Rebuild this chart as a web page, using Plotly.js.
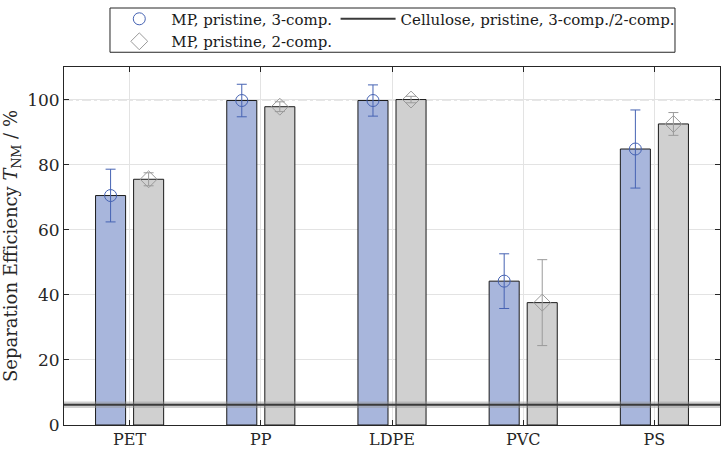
<!DOCTYPE html>
<html>
<head>
<meta charset="utf-8">
<script src="https://cdn.plot.ly/plotly-3.0.1.min.js"></script>
<style>html,body{margin:0;padding:0;background:#fff;}#chart{width:722px;height:451px;}</style>
</head>
<body>
<div id="chart"></div>
<script>
// ---- data ----
const categories = ['PET', 'PP', 'LDPE', 'PVC', 'PS'];
const mp3Values = [70.5, 99.7, 99.7, 44.2, 84.8];
const mp3Errors = [8.1, 5.0, 4.8, 8.4, 12.0];
const mp2Values = [75.5, 97.8, 100.0, 37.6, 92.5];
const mp2Errors = [2.0, 1.5, 1.0, 13.2, 3.5];
const celluloseValue = 6.2;
const celluloseError = 1.0;
const referenceLine = 100;
const yTicks = [0, 20, 40, 60, 80, 100];

const serif = 'DejaVu Serif';
const blueFill = '#a8b6dc';
const blueMark = '#4663b3';
const grayFill = '#d0d0d0';
const grayMark = '#9a9a9a';

const traces = [
  {type: 'bar', x: categories, y: mp3Values, showlegend: false, offsetgroup: 'a',
   marker: {color: blueFill, line: {color: '#1a1a1a', width: 1}},
   error_y: {type: 'data', array: mp3Errors, visible: true, color: blueMark, thickness: 1, width: 5},
   hoverinfo: 'skip'},
  {type: 'bar', x: categories, y: mp2Values, showlegend: false, offsetgroup: 'b',
   marker: {color: grayFill, line: {color: '#1a1a1a', width: 1}},
   error_y: {type: 'data', array: mp2Errors, visible: true, color: grayMark, thickness: 1, width: 5},
   hoverinfo: 'skip'},
  {type: 'scatter', mode: 'markers', x: categories, y: mp3Values, name: 'MP, pristine, 3-comp.',
   offsetgroup: 'a', legend: 'legend',
   marker: {symbol: 'circle-open', size: 12, color: blueMark, line: {width: 1, color: blueMark}}},
  {type: 'scatter', mode: 'markers', x: categories, y: mp2Values, name: 'MP, pristine, 2-comp.',
   offsetgroup: 'b', legend: 'legend',
   marker: {symbol: 'diamond-open', size: 13, color: grayMark, line: {width: 1, color: grayMark}}}
];

const layout = {
  width: 722, height: 451,
  margin: {l: 64, r: 2, t: 61, b: 26},
  paper_bgcolor: '#ffffff', plot_bgcolor: '#ffffff',
  font: {family: serif, size: 17, color: '#262626'},
  barmode: 'group', bargap: 0.42, bargroupgap: 0.21,
  scattermode: 'group', scattergap: 0.42,
  xaxis: {
    type: 'category', categoryorder: 'array', categoryarray: categories,
    range: [-0.5, 4.5], showline: true, linecolor: '#262626', linewidth: 1,
    mirror: 'ticks', ticks: 'inside', ticklen: 5, tickcolor: '#262626',
    showgrid: true, gridcolor: '#e3e3e3', zeroline: false,
    tickfont: {family: serif, size: 16, color: '#262626'}
  },
  yaxis: {
    range: [0, 110], tickvals: yTicks, showline: true, linecolor: '#262626', linewidth: 1,
    mirror: 'ticks', ticks: 'inside', ticklen: 5, tickcolor: '#262626',
    showgrid: true, gridcolor: '#e3e3e3', zeroline: false,
    tickfont: {family: serif, size: 17, color: '#262626'},
    title: {text: 'Separation Efficiency <i>T</i><sub>NM</sub> / %', standoff: 4,
            font: {family: serif, size: 18, color: '#262626'}}
  },
  showlegend: true,
  legend: {
    orientation: 'v', x: 0.066, xanchor: 'left', y: 1.18, yanchor: 'top',
    bgcolor: 'rgba(0,0,0,0)', borderwidth: 0, itemwidth: 54,
    font: {family: serif, size: 15, color: '#1a1a1a'}, tracegroupgap: 0
  },
  legend2: {
    orientation: 'v', x: 0.414, xanchor: 'left', y: 1.18, yanchor: 'top',
    bgcolor: 'rgba(0,0,0,0)', borderwidth: 0, itemwidth: 55,
    font: {family: serif, size: 15, color: '#1a1a1a'}
  },
  shapes: [
    {type: 'line', xref: 'paper', x0: 0, x1: 1, yref: 'y', y0: referenceLine, y1: referenceLine,
     line: {color: '#9a9a9a', width: 1.2, dash: 'dashdot'}, layer: 'below'},
    {type: 'rect', xref: 'paper', x0: 0, x1: 1, yref: 'y',
     y0: celluloseValue - celluloseError, y1: celluloseValue + celluloseError,
     fillcolor: 'rgba(150,150,150,0.45)', line: {width: 0}, layer: 'above'},
    {type: 'line', xref: 'paper', x0: 0, x1: 1, yref: 'y', y0: celluloseValue, y1: celluloseValue,
     line: {color: '#3a3a3a', width: 2}, layer: 'above',
     showlegend: true, name: 'Cellulose, pristine, 3-comp./2-comp.', legend: 'legend2'},
    {type: 'rect', xref: 'paper', yref: 'paper', x0: 0.0701, x1: 0.9314, y0: 1.0412, y1: 1.1648,
     line: {color: '#262626', width: 1}, fillcolor: 'rgba(0,0,0,0)'}
  ]
};

Plotly.newPlot('chart', traces, layout, {staticPlot: true, displayModeBar: false});
</script>
</body>
</html>
